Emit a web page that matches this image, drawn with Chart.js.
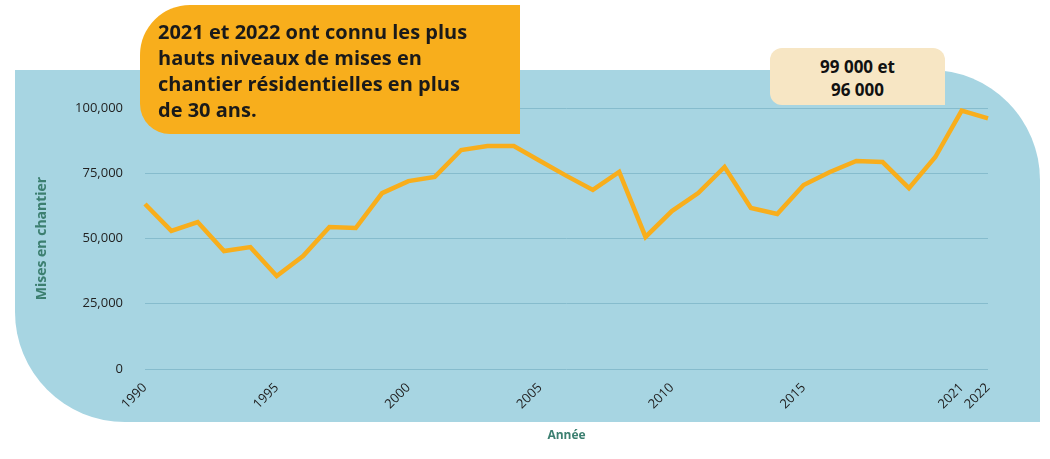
<!DOCTYPE html>
<html>
<head>
<meta charset="utf-8">
<script src="https://cdn.jsdelivr.net/npm/chart.js@4"></script>
<style>
  body { margin: 0; width: 1050px; height: 459px; background: #fff; position: relative; overflow: hidden; font-family: "Open Sans", sans-serif; }
  .panel { position: absolute; left: 15px; top: 70px; width: 1025px; height: 352px; background: #a7d5e2; border-radius: 0 110px 0 110px; }
  .callout { position: absolute; z-index: 2; left: 140px; top: 5px; width: 350px; height: 115px; padding: 14px 12px 0 18px; background: #f8ae1c; border-radius: 50px 0 0 30px; font: 700 20px "Open Sans", sans-serif; line-height: 26px; color: #1a1a1a; }
  .note { position: absolute; z-index: 2; left: 770px; top: 48px; width: 175px; height: 57px; background: #f7e6c4; border-radius: 12px 12px 0 12px; font: 700 17px "Open Sans", sans-serif; line-height: 23px; text-align: center; padding-top: 7px; box-sizing: border-box; color: #111; }
  canvas { position: absolute; left: 0; top: 0; z-index: 1; }
</style>
</head>
<body>
<div class="panel"></div>
<div class="callout">2021 et 2022 ont connu les plus hauts niveaux de mises en chantier résidentielles en plus<br>de 30 ans.</div>
<div class="note">99 000 et<br>96 000</div>
<canvas id="chart" width="1050" height="459"></canvas>
<script>
const years = ['1990','1991','1992','1993','1994','1995','1996','1997','1998','1999','2000','2001','2002','2003','2004','2005','2006','2007','2008','2009','2010','2011','2012','2013','2014','2015','2016','2017','2018','2019','2020','2021','2022'];
const starts = [63200,52900,56300,45200,46700,35600,43300,54400,54000,67400,72000,73600,83900,85400,85400,79700,74000,68600,75500,50600,60500,67400,77400,61700,59400,70500,75500,79700,79300,69300,81200,99000,96000];
const shownYears = ['1990','1995','2000','2005','2010','2015','2021','2022'];

new Chart(document.getElementById('chart').getContext('2d'), {
  type: 'line',
  data: {
    labels: years,
    datasets: [{ label: 'Mises en chantier', data: starts, borderColor: '#f8ae1c', borderWidth: 4.5, pointRadius: 0, tension: 0, fill: false }]
  },
  options: {
    responsive: false,
    animation: false,
    layout: { padding: { left: 30, right: 62, top: 108, bottom: 12 } },
    plugins: { legend: { display: false }, tooltip: { enabled: false } },
    scales: {
      x: {
        offset: false,
        grid: { display: false },
        border: { display: false },
        afterFit: s => { s.height = 459 - 369 - 12; },
        ticks: {
          autoSkip: false, maxRotation: 45, minRotation: 45, color: '#222',
          font: { family: 'Open Sans', size: 13 },
          callback: function (v) { const l = this.getLabelForValue(v); return shownYears.includes(l) ? l : ''; }
        },
        title: { display: true, text: 'Année', color: '#3c7f70', font: { family: 'Open Sans', size: 12, weight: 'bold' }, padding: { top: 8 } }
      },
      y: {
        min: 0, max: 100000,
        afterFit: s => { s.width = 115; },
        grid: { color: '#86bccd', lineWidth: 1, drawTicks: false },
        border: { display: false },
        ticks: { stepSize: 25000, color: '#222', padding: 22, font: { family: 'Open Sans', size: 13 }, callback: v => v.toLocaleString('en-US') },
        title: { display: true, text: 'Mises en chantier', color: '#3c7f70', font: { family: 'Open Sans', size: 14, weight: 'bold' } }
      }
    }
  }
});
</script>
</body>
</html>
